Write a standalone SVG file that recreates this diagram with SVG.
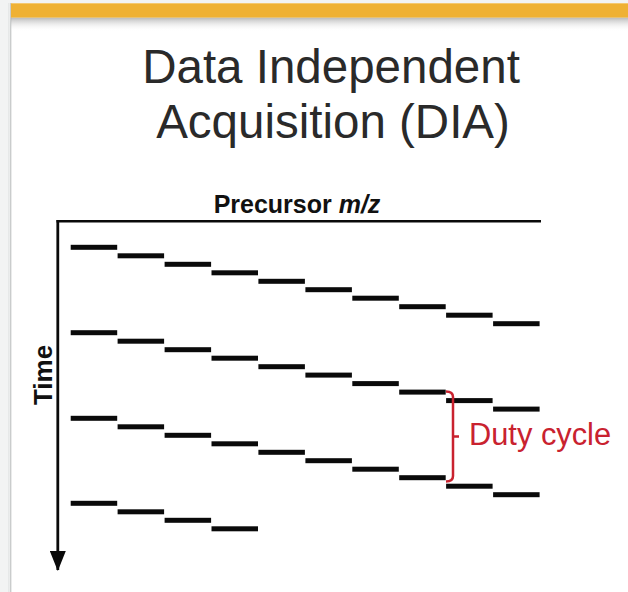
<svg xmlns="http://www.w3.org/2000/svg" width="628" height="592" viewBox="0 0 628 592">
<style>
.dash{fill:#0a0a0a}
.title{font-family:"Liberation Sans",Arial,sans-serif;font-size:47.5px;fill:#2a2a2a;text-anchor:middle}
.axlbl{font-family:"Liberation Sans",Arial,sans-serif;font-weight:bold;fill:#111}
.red{stroke:#c9222f;stroke-width:2.5;fill:none}
</style>
<defs>
<linearGradient id="shTop" x1="0" y1="0" x2="0" y2="1">
<stop offset="0" stop-color="#9a9a9a" stop-opacity="0.7"/>
<stop offset="1" stop-color="#ffffff" stop-opacity="0"/>
</linearGradient>
<linearGradient id="shLeft" x1="0" y1="0" x2="1" y2="0">
<stop offset="0" stop-color="#e4e6e6"/>
<stop offset="1" stop-color="#f2f3f3"/>
</linearGradient>
<marker id="arr" viewBox="0 0 20 16" refX="19" refY="8" markerWidth="20" markerHeight="16" markerUnits="userSpaceOnUse" orient="auto">
<path d="M0,0 L20,8 L0,16 Z" fill="#0a0a0a"/>
</marker>
</defs>
<g id="background">
<rect x="0" y="0" width="628" height="592" fill="#f2f3f3"/>
<rect x="11" y="3" width="617" height="589" fill="#ffffff"/>
<rect x="8" y="3" width="3" height="589" fill="url(#shLeft)"/>
<line x1="10.8" y1="3" x2="10.8" y2="592" stroke="#b9bcbc" stroke-width="1"/>
<rect x="11" y="17.5" width="617" height="14" fill="url(#shTop)"/>
<rect x="11" y="3.3" width="617" height="14.3" fill="#efb134"/>
</g>
<g id="title">
<text class="title" x="331" y="83">Data Independent</text>
<text class="title" x="333" y="138">Acquisition (DIA)</text>
</g>
<g id="connectors">
<line x1="56.5" y1="221.3" x2="541" y2="221.3" stroke="#0a0a0a" stroke-width="2.5"/>
<line x1="57.8" y1="220" x2="57.8" y2="570" stroke="#0a0a0a" stroke-width="2.8" marker-end="url(#arr)"/>
</g>
<g id="x-label">
<text class="axlbl" x="297" y="213" font-size="25" text-anchor="middle">Precursor <tspan font-style="italic">m/z</tspan></text>
</g>
<g id="y-label">
<text class="axlbl" font-size="26" text-anchor="middle" transform="translate(52,375) rotate(-90)">Time</text>
</g>
<g id="cycle-1">
<rect class="dash" x="70.7" y="244.8" width="46.5" height="5"/>
<rect class="dash" x="117.6" y="253.3" width="46.5" height="5"/>
<rect class="dash" x="164.6" y="261.8" width="46.5" height="5"/>
<rect class="dash" x="211.5" y="270.3" width="46.5" height="5"/>
<rect class="dash" x="258.4" y="278.8" width="46.5" height="5"/>
<rect class="dash" x="305.4" y="287.2" width="46.5" height="5"/>
<rect class="dash" x="352.3" y="295.7" width="46.5" height="5"/>
<rect class="dash" x="399.2" y="304.2" width="46.5" height="5"/>
<rect class="dash" x="446.1" y="312.7" width="46.5" height="5"/>
<rect class="dash" x="493.1" y="321.2" width="46.5" height="5"/>
</g>
<g id="cycle-2">
<rect class="dash" x="70.7" y="330.2" width="46.5" height="5"/>
<rect class="dash" x="117.6" y="338.7" width="46.5" height="5"/>
<rect class="dash" x="164.6" y="347.2" width="46.5" height="5"/>
<rect class="dash" x="211.5" y="355.7" width="46.5" height="5"/>
<rect class="dash" x="258.4" y="364.2" width="46.5" height="5"/>
<rect class="dash" x="305.4" y="372.6" width="46.5" height="5"/>
<rect class="dash" x="352.3" y="381.1" width="46.5" height="5"/>
<rect class="dash" x="399.2" y="389.6" width="46.5" height="5"/>
<rect class="dash" x="446.1" y="398.1" width="46.5" height="5"/>
<rect class="dash" x="493.1" y="406.6" width="46.5" height="5"/>
</g>
<g id="cycle-3">
<rect class="dash" x="70.7" y="415.8" width="46.5" height="5"/>
<rect class="dash" x="117.6" y="424.3" width="46.5" height="5"/>
<rect class="dash" x="164.6" y="432.8" width="46.5" height="5"/>
<rect class="dash" x="211.5" y="441.3" width="46.5" height="5"/>
<rect class="dash" x="258.4" y="449.8" width="46.5" height="5"/>
<rect class="dash" x="305.4" y="458.2" width="46.5" height="5"/>
<rect class="dash" x="352.3" y="466.7" width="46.5" height="5"/>
<rect class="dash" x="399.2" y="475.2" width="46.5" height="5"/>
<rect class="dash" x="446.1" y="483.7" width="46.5" height="5"/>
<rect class="dash" x="493.1" y="492.2" width="46.5" height="5"/>
</g>
<g id="cycle-4">
<rect class="dash" x="70.7" y="500.8" width="46.5" height="5"/>
<rect class="dash" x="117.6" y="509.3" width="46.5" height="5"/>
<rect class="dash" x="164.6" y="517.8" width="46.5" height="5"/>
<rect class="dash" x="211.5" y="526.3" width="46.5" height="5"/>
</g>
<g id="duty-cycle">
<path class="red" d="M446,391.5 Q453,391.5 453,397 L453,476 Q453,481.5 446,481.5 M453,436.5 L459,436.5"/>
<text x="469" y="445" font-family="'Liberation Sans',Arial,sans-serif" font-size="30.8" fill="#c9222f">Duty cycle</text>
</g>
</svg>
